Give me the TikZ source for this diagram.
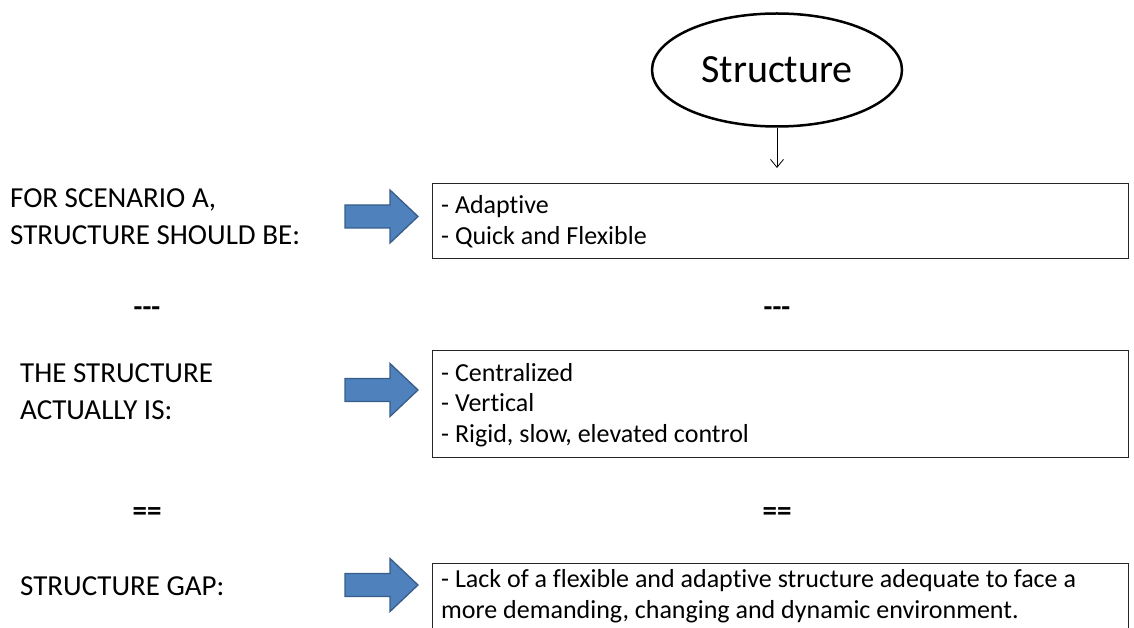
\documentclass[tikz,border=0pt]{standalone}
\usepackage{fontspec}
\setmainfont{Carlito}[Ligatures={NoCommon}]
\usetikzlibrary{arrows.meta,shapes.geometric}
\definecolor{arrfill}{HTML}{4F81BD}
\definecolor{arrdraw}{HTML}{385D8A}
\tikzset{
  lbl/.style={anchor=base west,align=left,inner sep=0pt,font=\fontsize{29}{36.5}\selectfont},
  sep/.style={inner sep=0pt,anchor=base,font=\fontsize{29}{30}\selectfont\bfseries},
  boxframe/.style={draw=black!85,line width=1pt},
  boxtext/.style={anchor=base west,align=left,inner sep=0pt,font=\fontsize{26}{30.5}\selectfont},
  bigarrow/.pic={\draw[fill=arrfill,draw=arrdraw,line width=1.3pt,line join=miter]
     (0,-11.5) -- (45,-11.5) -- (45,-26.5) -- (73,0) -- (45,26.5) -- (45,11.5) -- (0,11.5) -- cycle;}
}
\begin{document}
\begin{tikzpicture}[x=1pt,y=-1pt]
\useasboundingbox (0,0) rectangle (1134,628);
% ellipse
\node[ellipse,draw,line width=2.5pt,minimum width=250pt,minimum height=113pt,font=\fontsize{40}{42}\selectfont] (ell) at (777,70) {Structure};
% left labels (anchor = baseline of last line)
\node[lbl] (l1) at (10,244) {FOR SCENARIO A,\\STRUCTURE SHOULD BE:};
\node[lbl] (l2) at (20,419) {THE STRUCTURE\\ACTUALLY IS:};
\node[lbl] (l3) at (20,595) {STRUCTURE GAP:};
% separators
\node[sep] (s1) at (147,316) {-{}-{}-};
\node[sep] (s2) at (777,316) {-{}-{}-};
\node[sep] (s3) at (147,520) {==};
\node[sep] (s4) at (777,520) {==};
% arrows
\pic at (345,216.5) {bigarrow};
\pic at (345,390) {bigarrow};
\pic at (345,585) {bigarrow};
% boxes
\node[boxframe,anchor=north west,minimum width=696pt,minimum height=75pt,inner sep=0pt] (b1) at (432,183) {};
\node[boxtext] (t1) at (441,244) {- Adaptive\\- Quick and Flexible};
\node[boxframe,anchor=north west,minimum width=696pt,minimum height=107pt,inner sep=0pt] (b2) at (432,350) {};
\node[boxtext] (t2) at (441,442) {- Centralized\\- Vertical\\- Rigid, slow, elevated control};
\coordinate (b3tl) at (432,563);
\coordinate (b3tr) at (1128,563);
\draw[boxframe] (b3tl |- 0,628) -- (b3tl) -- (b3tr) -- (b3tr |- 0,628);
\node[boxtext] (t3) at (441,618) {- Lack of a flexible and adaptive structure adequate to face a\\more demanding, changing and dynamic environment.};
% connector
\draw[line width=0.8pt,-{Straight Barb[length=8pt,width=13pt]},shorten >=15pt] (ell.south) -- (ell.south |- b1.north);
\end{tikzpicture}
\end{document}
